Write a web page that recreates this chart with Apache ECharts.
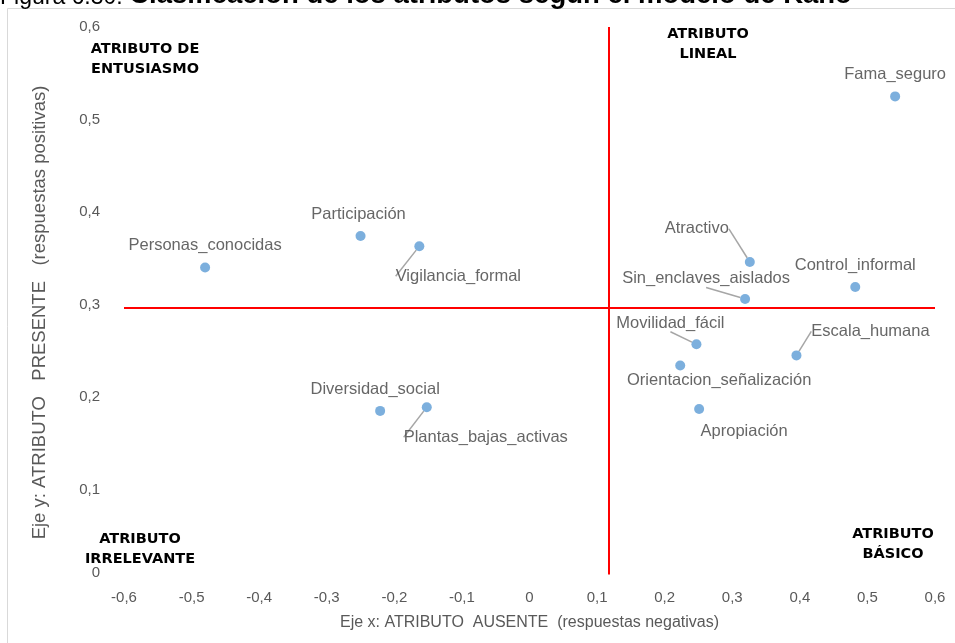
<!DOCTYPE html>
<html>
<head>
<meta charset="utf-8">
<script src="https://cdn.jsdelivr.net/npm/echarts@6/dist/echarts.min.js"></script>
<style>
  html, body { margin: 0; padding: 0; background: #fff; }
  #main { width: 955px; height: 643px; }
</style>
</head>
<body>
<div id="main"></div>
<script>
// atributos del modelo de Kano
const names = [
  'Fama_seguro', 'Personas_conocidas', 'Participación', 'Vigilancia_formal',
  'Atractivo', 'Control_informal', 'Sin_enclaves_aislados', 'Movilidad_fácil',
  'Escala_humana', 'Orientacion_señalización', 'Apropiación',
  'Diversidad_social', 'Plantas_bajas_activas'
];
const xVals = [0.541, -0.480, -0.250, -0.163, 0.326, 0.482, 0.319, 0.247, 0.395, 0.223, 0.251, -0.221, -0.152];
const yVals = [0.525, 0.340, 0.374, 0.363, 0.346, 0.319, 0.306, 0.257, 0.245, 0.234, 0.187, 0.185, 0.189];

// lineas de corte de los cuadrantes
const xCut = 0.118;
const yCut = 0.297;

const xTickMin = -0.6, xTickMax = 0.6;
const yTickMin = 0, yTickMax = 0.6;
const tickStep = 0.1;

// desplazamiento de etiquetas (px) y cuales llevan linea guia
const labelShift = {
  'Fama_seguro': [0, -22],
  'Personas_conocidas': [0, -22],
  'Participación': [-2, -22],
  'Vigilancia_formal': [39, 30],
  'Atractivo': [-53, -33],
  'Control_informal': [0, -21],
  'Sin_enclaves_aislados': [-39, -20],
  'Movilidad_fácil': [-26, -21],
  'Escala_humana': [74, -24],
  'Orientacion_señalización': [39, 15],
  'Apropiación': [45, 22],
  'Diversidad_social': [-5, -21],
  'Plantas_bajas_activas': [59, 30]
};
const withLeader = ['Vigilancia_formal', 'Atractivo', 'Sin_enclaves_aislados',
  'Movilidad_fácil', 'Escala_humana', 'Plantas_bajas_activas'];

const fmt = (v) => {
  if (Math.abs(v) < 1e-9) return '0';
  return v.toFixed(1).replace('.', ',');
};

const points = names.map((n, i) => ({
  name: n,
  value: [xVals[i], yVals[i]],
  labelLine: { show: withLeader.indexOf(n) >= 0 }
}));

const chart = echarts.init(document.getElementById('main'));
const quadFont = { fontFamily: 'DejaVu Sans', fontWeight: 'bold', fontSize: 14.5, fill: '#000', align: 'center' };

const option = {
  animation: false,
  backgroundColor: '#fff',
  grid: { left: 124, right: 20, top: 27, bottom: 61, containLabel: false, outerBoundsMode: 'none' },
  xAxis: {
    type: 'value',
    min: xTickMin,
    max: xTickMax,
    interval: tickStep,
    name: 'Eje x: ATRIBUTO  AUSENTE  (respuestas negativas)',
    nameLocation: 'middle',
    nameGap: 33,
    nameTextStyle: { color: '#595959', fontSize: 16, fontFamily: 'Liberation Sans' },
    axisLine: { show: false },
    axisTick: { show: false },
    splitLine: { show: false },
    axisLabel: { color: '#595959', fontSize: 15, fontFamily: 'Liberation Sans', margin: 8, formatter: fmt }
  },
  yAxis: {
    type: 'value',
    min: yTickMin,
    max: yTickMax,
    interval: tickStep,
    name: 'Eje y: ATRIBUTO   PRESENTE   (respuestas positivas)',
    nameLocation: 'middle',
    nameGap: 75,
    nameTextStyle: { color: '#595959', fontSize: 18.5, fontFamily: 'Liberation Sans', padding: [0, 16, 0, 0] },
    axisLine: { show: false },
    axisTick: { show: false },
    splitLine: { show: false },
    axisLabel: {
      color: '#595959', fontSize: 15, fontFamily: 'Liberation Sans', margin: 24,
      formatter: (v) => (Math.abs(v) < 1e-9 ? '{z|0}' : fmt(v)),
      rich: { z: { color: '#595959', fontSize: 15, fontFamily: 'Liberation Sans', padding: [0, 0, 18, 0] } }
    }
  },
  series: [{
    type: 'scatter',
    symbolSize: 10,
    itemStyle: { color: '#5B9BD5' },
    data: points,
    label: {
      show: true,
      position: 'inside',
      formatter: '{b}',
      color: '#404040',
      fontSize: 16.5,
      fontFamily: 'Liberation Sans'
    },
    labelLine: { show: false, lineStyle: { color: '#a6a6a6', width: 1.5 } },
    labelLayout: (p) => {
      const s = labelShift[names[p.dataIndex]] || [0, -21];
      return { dx: s[0], dy: s[1] };
    },
    markLine: {
      silent: true,
      symbol: 'none',
      label: { show: false },
      lineStyle: { color: '#ff0000', width: 2, type: 'solid' },
      data: [
        [{ coord: [xTickMin, yCut] }, { coord: [xTickMax, yCut] }],
        [{ coord: [xCut, 0.008] }, { coord: [xCut, yTickMax] }]
      ]
    }
  }],
  graphic: [
    {
      type: 'rect',
      silent: true,
      shape: { x: 7.5, y: 8.5, width: 1000, height: 700 },
      style: { fill: 'none', stroke: '#d9d9d9', lineWidth: 1 }
    },
    {
      type: 'text',
      left: 0,
      top: -19,
      style: {
        text: '{r|Figura 6.30: }{b|Clasificación de los atributos según el modelo de Kano}',
        fontFamily: 'Liberation Sans',
        fontSize: 23,
        fill: '#000',
        rich: {
          r: { fontFamily: 'Liberation Sans', fontSize: 23, fill: '#000', verticalAlign: 'bottom' },
          b: { fontFamily: 'Liberation Sans', fontSize: 27.5, fontWeight: 'bold', fill: '#000', verticalAlign: 'bottom' }
        }
      }
    },
    { type: 'text', x: 145, y: 39, style: Object.assign({ text: 'ATRIBUTO DE\nENTUSIASMO', lineHeight: 20 }, quadFont) },
    { type: 'text', x: 708, y: 24, style: Object.assign({ text: 'ATRIBUTO\nLINEAL', lineHeight: 20 }, quadFont) },
    { type: 'text', x: 140, y: 529, style: Object.assign({ text: 'ATRIBUTO\nIRRELEVANTE', lineHeight: 20 }, quadFont) },
    { type: 'text', x: 893, y: 524, style: Object.assign({ text: 'ATRIBUTO\nBÁSICO', lineHeight: 20 }, quadFont) }
  ]
};

chart.setOption(option);
</script>
</body>
</html>
